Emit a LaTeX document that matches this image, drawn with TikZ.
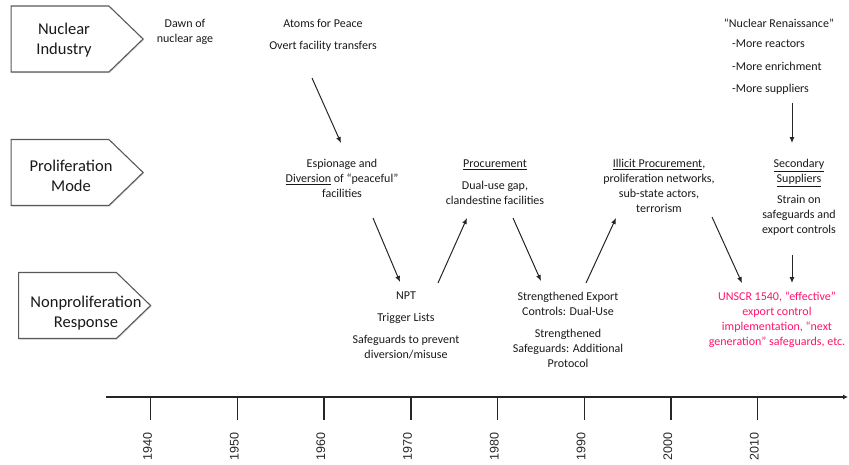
\documentclass[tikz,border=0pt]{standalone}
\usepackage{fontspec}
\setmainfont{Carlito}
\newfontfamily\yearfont{Liberation Sans}
\usetikzlibrary{shapes.symbols,arrows.meta,shadows}
\definecolor{txt}{gray}{0.1}
\definecolor{unscr}{rgb}{1,0.08,0.42}
\begin{document}
\begin{tikzpicture}[x=1pt,y=-1pt,
  pent/.style={shape=signal, signal to=east, signal pointer angle=88, draw=black!65, line width=1.1pt, fill=white,
     minimum width=#1, minimum height=66, inner sep=0, drop shadow={opacity=0.25, shadow xshift=1pt, shadow yshift=-1pt}},
  pentlbl/.style={align=center, text=txt, font=\fontsize{16.5}{20}\selectfont, inner sep=0},
  blk/.style={align=center, text=txt, anchor=north, inner sep=0, font=\fontsize{12}{15}\selectfont},
  arr/.style={draw=black!85, line width=1pt, -{Latex[length=6pt,width=5pt]}},
  tick/.style={draw=black!85, line width=1.4pt},
  yr/.style={rotate=90, anchor=east, inner sep=0, text=black!85, font=\yearfont\fontsize{12.5}{14}\selectfont}]
\useasboundingbox (0,0) rectangle (849,464);
% category boxes
\node[pent=132] (p1) at (60,39) {};
\node[pent=132] (p2) at (60,172.5) {};
\node[pent=132] (p3) at (67.5,305.5) {};
\node[pentlbl] (l1) at (64,40) {Nuclear\\Industry};
\node[pentlbl] (l2) at (71,176) {Proliferation\\Mode};
\node[pentlbl] (l3) at (86,313) {Nonproliferation\\Response};
% text blocks
\node[blk] (dawn) at (185,19) {Dawn of\\nuclear age};
\node[blk] (atoms) at (323,19) {Atoms for Peace\\[7pt]Overt facility transfers};
\node[blk] (ren) at (779,19) {“Nuclear Renaissance”};
\node[blk, anchor=north west, align=left, font=\fontsize{12}{22.5}\selectfont] (renl) at (732,40) {-More reactors\\-More enrichment\\-More suppliers};
\node[blk] (esp) at (342,159) {Espionage and\\\underline{Diversion} of “peaceful”\\facilities};
\node[blk] (proc) at (495,160) {\underline{Procurement}\\[7pt]Dual-use gap,\\clandestine facilities};
\node[blk] (illicit) at (659,159) {\underline{Illicit Procurement},\\proliferation networks,\\sub-state actors,\\terrorism};
\node[blk] (sec) at (799,159) {\underline{Secondary}\\\underline{Suppliers}\\[6pt]Strain on\\safeguards and\\export controls};
\node[blk] (npt) at (406,292) {NPT\\[7pt]Trigger Lists\\[7pt]Safeguards to prevent\\diversion/misuse};
\node[blk] (str) at (568,292) {Strengthened Export\\Controls: Dual-Use\\[7pt]Strengthened\\Safeguards: Additional\\Protocol};
\node[blk, text=unscr] (unscr) at (777,292) {UNSCR 1540, “effective”\\export control\\implementation, “next\\generation” safeguards, etc.};
% arrow end points
\coordinate (a1s) at (312,78);  \coordinate (a1e) at (341,143);
\coordinate (a2s) at (373,218); \coordinate (a2e) at (400,282);
\coordinate (a3s) at (438,283); \coordinate (a3e) at (467,218);
\coordinate (a4s) at (513,218); \coordinate (a4e) at (541,281);
\coordinate (a5s) at (586,283); \coordinate (a5e) at (616,218);
\coordinate (a6s) at (712,217); \coordinate (a6e) at (742,283);
\coordinate (a7s) at (792,103); \coordinate (a7e) at (792,143);
\coordinate (a8s) at (792,255); \coordinate (a8e) at (792,283);
\foreach \i in {1,...,8} {\draw[arr] (a\i s) -- (a\i e);}
% timeline
\coordinate (ax0) at (106,397);
\coordinate (ax1) at (848,397);
\draw[draw=black!85, line width=1.8pt, -{Latex[length=5pt,width=5pt]}] (ax0) -- (ax1);
\foreach \y [count=\k from 0] in {1940,1950,1960,1970,1980,1990,2000,2010} {
  \coordinate (t\y) at ({150.7+86.7*\k},397);
  \draw[tick] (t\y) -- ++(0,23);
  \node[yr] (y\y) at ({147.5+86.7*\k},432) {\y};
}
\end{tikzpicture}
\end{document}
